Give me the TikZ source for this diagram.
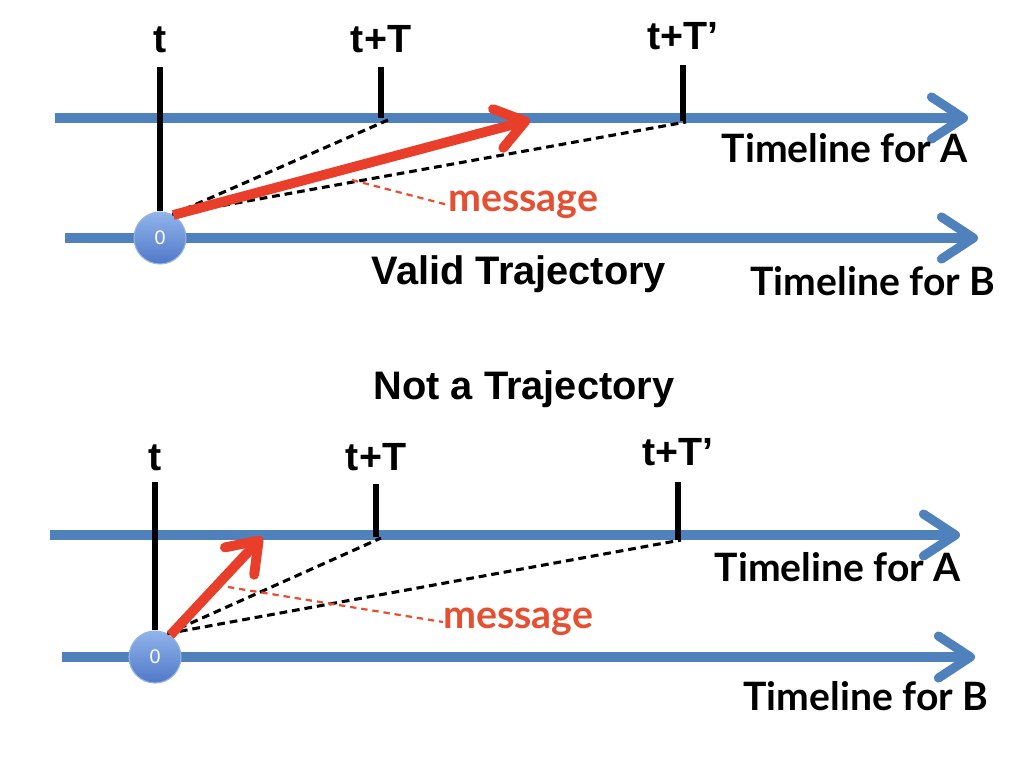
\documentclass[tikz,border=0pt]{standalone}
\usepackage{fontspec}
\setmainfont{Liberation Sans}
\newfontfamily\gillfont{Lato}
\usetikzlibrary{arrows.meta}
\definecolor{lineblue}{RGB}{79,129,189}
\definecolor{msgred}{RGB}{232,62,42}
\definecolor{msgtext}{RGB}{229,80,50}
\tikzstyle{timeline} = [line width=6.5pt, lineblue, -{Straight Barb[length=0.8cm, width=1.05cm, round]}]
\tikzstyle{tick} = [line width=4.5pt, black]
\tikzstyle{bound} = [line width=2.2pt, black, dash pattern=on 5.5pt off 3.5pt]
\tikzstyle{message} = [line width=7pt, msgred, -{Straight Barb[length=0.7cm, width=1.0cm, round]}]
\tikzstyle{pointer} = [line width=1.6pt, msgtext, dash pattern=on 4.5pt off 3.5pt]
\tikzstyle{ticklabel} = [font=\bfseries\fontsize{28}{32}\selectfont, anchor=base]
\tikzstyle{linelabel} = [font=\gillfont\bfseries\fontsize{27.8}{32}\selectfont]
\tikzstyle{title} = [font=\bfseries\fontsize{28.3}{32}\selectfont]
\tikzstyle{msglabel} = [font=\gillfont\bfseries\fontsize{28}{32}\selectfont, text=msgtext, anchor=west, inner sep=0pt]
\tikzstyle{sender} = [circle, minimum size=1.3cm, inner sep=0pt, draw={rgb,255:red,150;green,180;blue,225}, line width=0.8pt,
  top color={rgb,255:red,145;green,180;blue,235}, bottom color={rgb,255:red,80;green,120;blue,200},
  text=white, font=\fontsize{14}{16}\selectfont]

\begin{document}
\begin{tikzpicture}[x=0.025cm, y=-0.025cm]
    \useasboundingbox (0,0) rectangle (1024,768);

    % Valid trajectory
    \coordinate (aStart) at (55,118);
    \coordinate (aEnd) at (968,118);
    \coordinate (bStart) at (65,238);
    \coordinate (bEnd) at (978,238);
    \draw [timeline] (aStart) -- (aEnd);
    \draw [timeline] (bStart) -- (bEnd);
    \node (src) [sender] at (160,238) {0};

    \coordinate (tTop) at (160,67);
    \coordinate (tTTop) at (381,67);
    \coordinate (tTFoot) at (381,118);
    \coordinate (tPTop) at (683,65);
    \coordinate (tPFoot) at (683,121);
    \draw [tick] (tTop) -- (src.north);
    \draw [tick] (tTTop) -- (tTFoot);
    \draw [tick] (tPTop) -- (tPFoot);
    \node (lblT) [ticklabel] at (160,53) {t};
    \node (lblTT) [ticklabel] at (381,53) {t+T};
    \node (lblTP) [ticklabel] at (683,50) {t+T’};

    \coordinate (bndT) at (388,120);
    \coordinate (bndP) at (686,122);
    \draw [bound] (src.62) -- (bndT);
    \draw [bound] (src.62) -- (bndP);
    \coordinate (msgTip) at (530,120);
    \draw [message] (src.60) -- (msgTip);

    \node (msgA) [msglabel] at (448,205) {message};
    \coordinate (msgRef) at (352,180);
    \draw [pointer] (msgRef) -- (msgA.west);

    \node (lblA) [linelabel] at (845,148) {Timeline for A};
    \node (lblB) [linelabel] at (873,281) {Timeline for B};
    \node (valid) [title] at (519,274) {Valid Trajectory};

    % Not a trajectory
    \node (invalid) [title] at (524,389) {Not a Trajectory};
    \coordinate (a2Start) at (50,535);
    \coordinate (a2End) at (960,535);
    \coordinate (b2Start) at (62,657);
    \coordinate (b2End) at (975,657);
    \draw [timeline] (a2Start) -- (a2End);
    \draw [timeline] (b2Start) -- (b2End);
    \node (src2) [sender] at (155,657) {0};

    \coordinate (t2Top) at (155,482);
    \coordinate (tT2Top) at (376,484);
    \coordinate (tT2Foot) at (376,537);
    \coordinate (tP2Top) at (678,482);
    \coordinate (tP2Foot) at (678,540);
    \draw [tick] (t2Top) -- (src2.north);
    \draw [tick] (tT2Top) -- (tT2Foot);
    \draw [tick] (tP2Top) -- (tP2Foot);
    \node (lblT2) [ticklabel] at (155,470) {t};
    \node (lblTT2) [ticklabel] at (376,470) {t+T};
    \node (lblTP2) [ticklabel] at (678,465) {t+T’};

    \coordinate (bndT2) at (381,538);
    \coordinate (bndP2) at (681,540);
    \draw [bound] (src2.62) -- (bndT2);
    \draw [bound] (src2.62) -- (bndP2);
    \coordinate (msgTip2) at (262,537);
    \draw [message] (src2.55) -- (msgTip2);

    \node (msgB) [msglabel] at (443,622) {message};
    \coordinate (msgRef2) at (228,587);
    \draw [pointer] (msgRef2) -- (msgB.west);

    \node (lblA2) [linelabel] at (838,567) {Timeline for A};
    \node (lblB2) [linelabel] at (866,696) {Timeline for B};

\end{tikzpicture}
\end{document}
